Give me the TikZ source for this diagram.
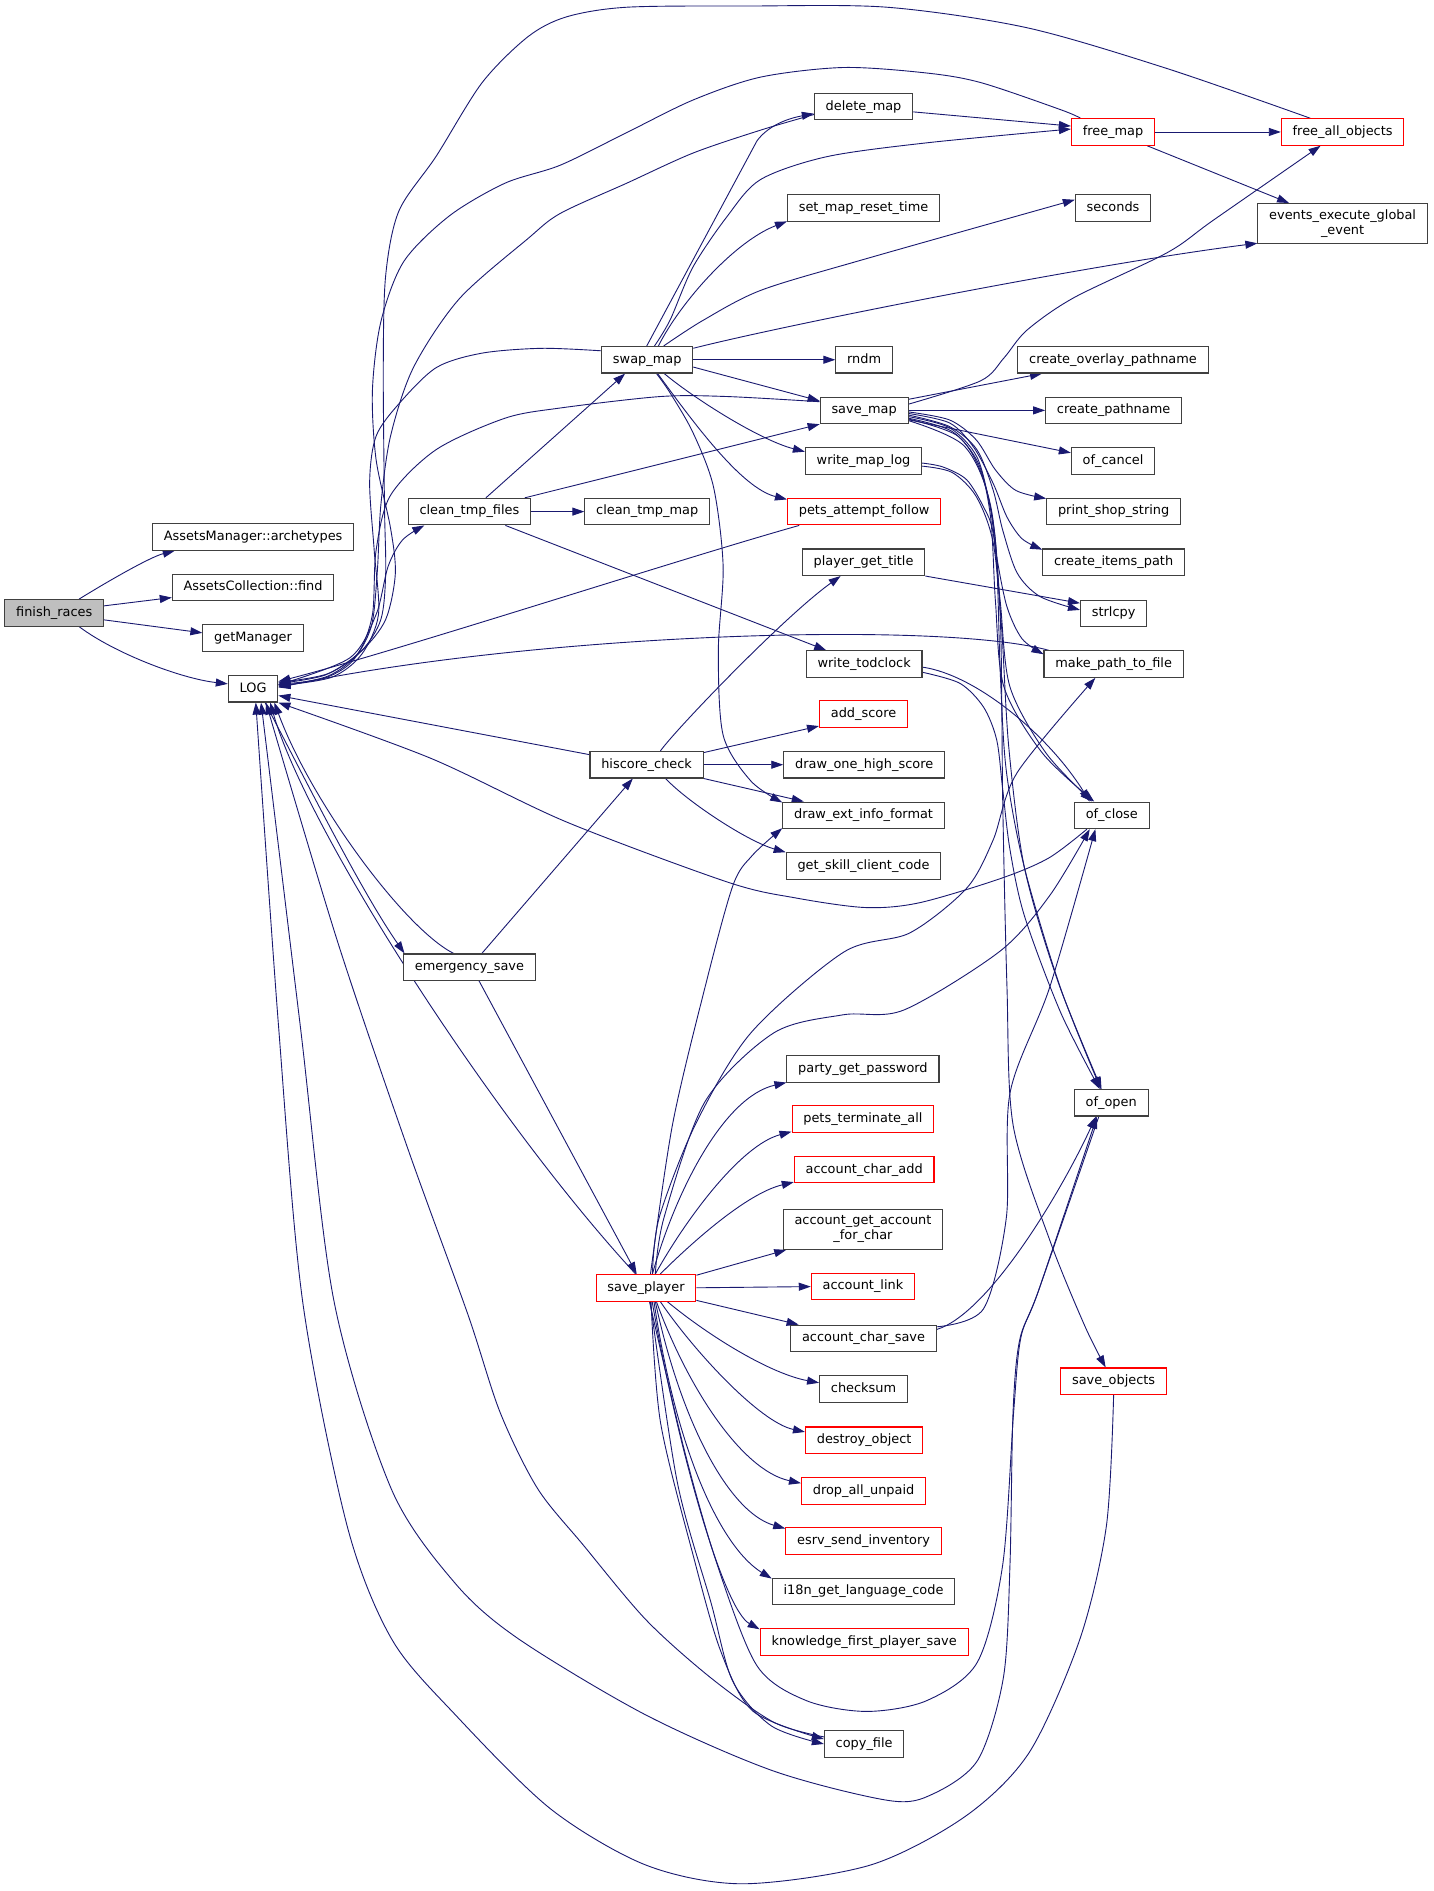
\documentclass[tikz,border=0pt]{standalone}
\usepackage{fontspec}
\newfontfamily\dvs{DejaVu Sans}
\usetikzlibrary{arrows.meta,calc}
\definecolor{eb}{HTML}{191970}
\definecolor{nb}{HTML}{404040}
\pgfdeclarelayer{bg}
\pgfsetlayers{bg,main}
\begin{document}
\begin{tikzpicture}[x=1.2052pt,y=-1.2052pt,
  fbase/.style={draw=nb, line width=1.1pt, fill=white, font=\dvs\fontsize{12.9}{15.2}\selectfont, inner xsep=11.3pt, inner ysep=0pt},
  fn/.style={fbase, minimum height=26.5pt, text height=9.6pt, text depth=2.9pt},
  rn/.style={fn, draw=red},
  fn2/.style={fbase, minimum height=40pt, align=center},
  edg/.style={draw=eb, line width=0.9pt, -{Triangle[length=12pt,width=8pt]}},
]
\useasboundingbox (0,0) rectangle (1189,1569);
% ---------- nodes ----------
\node[fn, fill=gray!50] (finish_races) at (45,508.5) {finish\_races};
\node[fn] (archetypes) at (210,445.5) {AssetsManager::archetypes};
\node[fn] (find) at (210,487.5) {AssetsCollection::find};
\node[fn] (getManager) at (210,529.5) {getManager};
\node[fn] (LOG) at (210,571.5) {LOG};
\node[fn] (clean_tmp_files) at (389.5,424.5) {clean\_tmp\_files};
\node[fn] (emergency_save) at (389.5,802.5) {emergency\_save};
\node[fn] (swap_map) at (537,298.5) {swap\_map};
\node[fn] (clean_tmp_map) at (537,424.5) {clean\_tmp\_map};
\node[fn] (hiscore_check) at (536.5,634.5) {hiscore\_check};
\node[rn] (save_player) at (536,1068.5) {save\_player};
\node[fn] (delete_map) at (716.5,88.5) {delete\_map};
\node[fn] (set_map_reset_time) at (716.5,172.5) {set\_map\_reset\_time};
\node[fn] (rndm) at (717,298.5) {rndm};
\node[fn] (save_map) at (717,340.5) {save\_map};
\node[fn] (write_map_log) at (716.5,382.5) {write\_map\_log};
\node[rn] (pets_attempt_follow) at (717,424.5) {pets\_attempt\_follow};
\node[fn] (player_get_title) at (716.5,466.5) {player\_get\_title};
\node[fn] (write_todclock) at (717,551) {write\_todclock};
\node[rn] (add_score) at (716.5,592.5) {add\_score};
\node[fn] (draw_one_high_score) at (717,634.5) {draw\_one\_high\_score};
\node[fn] (draw_ext_info_format) at (716.5,676.5) {draw\_ext\_info\_format};
\node[fn] (get_skill_client_code) at (716.5,718.5) {get\_skill\_client\_code};
\node[fn] (party_get_password) at (716,887) {party\_get\_password};
\node[rn] (pets_terminate_all) at (716,928.5) {pets\_terminate\_all};
\node[rn] (account_char_add) at (717,970.5) {account\_char\_add};
\node[fn2] (account_get_account_for_char) at (716,1020) {account\_get\_account\\\_for\_char};
\node[rn] (account_link) at (716,1067.5) {account\_link};
\node[fn] (account_char_save) at (716.5,1110.5) {account\_char\_save};
\node[fn] (checksum) at (716.5,1152.5) {checksum};
\node[rn] (destroy_object) at (717,1195) {destroy\_object};
\node[rn] (drop_all_unpaid) at (716.5,1237) {drop\_all\_unpaid};
\node[rn] (esrv_send_inventory) at (716.5,1278.5) {esrv\_send\_inventory};
\node[fn] (i18n_get_language_code) at (716.5,1320.5) {i18n\_get\_language\_code};
\node[rn] (knowledge_first_player_save) at (717,1362.5) {knowledge\_first\_player\_save};
\node[fn] (copy_file) at (717,1447) {copy\_file};
\node[rn] (free_map) at (923.5,109.5) {free\_map};
\node[fn] (seconds) at (923.5,172.5) {seconds};
\node[fn] (create_overlay_pathname) at (923.5,298.5) {create\_overlay\_pathname};
\node[fn] (create_pathname) at (924,340.5) {create\_pathname};
\node[fn] (of_cancel) at (923.5,382.5) {of\_cancel};
\node[fn] (print_shop_string) at (924,424.5) {print\_shop\_string};
\node[fn] (create_items_path) at (924,466.5) {create\_items\_path};
\node[fn] (strlcpy) at (924,509) {strlcpy};
\node[fn] (make_path_to_file) at (924,551) {make\_path\_to\_file};
\node[fn] (of_close) at (922.5,676.5) {of\_close};
\node[fn] (of_open) at (922,915) {of\_open};
\node[rn] (save_objects) at (924,1146) {save\_objects};
\node[rn] (free_all_objects) at (1114,109.5) {free\_all\_objects};
\node[fn2] (events_execute_global_event) at (1114,185.5) {events\_execute\_global\\\_event};
% ---------- edges ----------
\begin{pgfonlayer}{bg}
\fill[white] (0,0) rectangle (1189,1569);
% finish_races
\draw[edg] (finish_races.29) .. controls (90,482) and (125,462) .. (archetypes.190);
\draw[edg] (finish_races.8) -- (find.187);
\draw[edg] (finish_races.352) -- (getManager.174);
\draw[edg] (finish_races.331) .. controls (95,542) and (150,563) .. (LOG.169);
% LOG
\draw[edg] plot[smooth] coordinates {(LOG.9) (290,546) (312,510) (322,470) (334,448) (clean_tmp_files.197)};
\draw[edg] (LOG.311) .. controls (255,650) and (300,740) .. (emergency_save.168);
% emergency_save
\draw[edg] (emergency_save.139) .. controls (335,770) and (258,665) .. (LOG.327);
\draw[edg] (emergency_save.48) -- (hiscore_check.225);
\draw[edg] (emergency_save.305) -- (save_player.124);
% clean_tmp_files
\draw[edg] (clean_tmp_files.40) -- (swap_map.212);
\draw[edg] (clean_tmp_files.east) -- (clean_tmp_map.west);
\draw[edg] (clean_tmp_files.14) -- (save_map.south west);
\draw[edg] (clean_tmp_files.339) -- (write_todclock.160);
% hiscore_check
\draw[edg] (hiscore_check.170) -- (LOG.345);
\draw[edg] (hiscore_check.12) -- (add_score.195);
\draw[edg] (hiscore_check.east) -- (draw_one_high_score.west);
\draw[edg] (hiscore_check.south east) -- (draw_ext_info_format.167);
\draw[edg] (hiscore_check.324) .. controls (570,665) and (620,698) .. (get_skill_client_code.170);
\draw[edg] (hiscore_check.45) .. controls (560,606) and (650,512) .. (player_get_title.211);
% swap_map
\draw[edg] (swap_map.92) -- (628,117) .. controls (636,106) and (650,99) .. (delete_map.188);
\draw[edg] plot[smooth] coordinates {(swap_map.62) (556,265.5) (575,221.5) (603,180) (631,149) (686,130) (769,118.5) (free_map.176)};
\draw[edg] (swap_map.51) .. controls (565,250) and (610,200) .. (set_map_reset_time.190);
\draw[edg] plot[smooth] coordinates {(swap_map.40) (583,266) (631,241) (714,216) (seconds.168)};
\draw[edg] (swap_map.14) .. controls (650,270) and (900,220) .. (events_execute_global_event.193);
\draw[edg] (swap_map.east) -- (rndm.west);
\draw[edg] (swap_map.351) -- (save_map.168);
\draw[edg] (swap_map.321) .. controls (575,330) and (630,365) .. (write_map_log.171);
\draw[edg] (swap_map.307) .. controls (575,350) and (615,405) .. (pets_attempt_follow.171);
\draw[edg] plot[smooth] coordinates {(swap_map.304) (556,326) (575,359) (592,404) (600,470) (596,540) (600,610) (623,648) (draw_ext_info_format.171)};
\draw[edg] plot[smooth] coordinates {(swap_map.169) (449.5,289) (400,293) (362,305) (331,335) (312,362) (306.7,400) (310.5,457) (314,510) (300,543) (275,562) (LOG.7)};
% save_map
\draw[edg] plot[smooth] coordinates {(save_map.169) (603,329) (548,329) (465,338.5) (419,347) (362,373) (324,411) (312,457) (309,510) (297,542) (272,561) (LOG.5)};
\draw[edg] plot[smooth] coordinates {(save_map.8) (813.6,316) (833,297) (852,274) (891,247) (968.7,209.5) (1007,182.5) (free_all_objects.212)};
\draw[edg] (save_map.14) -- (create_overlay_pathname.191);
\draw[edg] (save_map.east) -- (create_pathname.west);
\draw[edg] (save_map.348) -- (of_cancel.169);
\draw[edg] plot[smooth] coordinates {(save_map.358) (788,348.5) (810,365) (826,390) (843,407) (print_shop_string.169)};
\draw[edg] plot[smooth] coordinates {(save_map.356) (788,351) (807.5,370.6) (824,401) (835.5,429) (848,447) (create_items_path.170)};
\draw[edg] plot[smooth] coordinates {(save_map.354) (788,354) (810.5,373) (824,406.6) (832,440) (844,475.5) (863,495) (strlcpy.174)};
\draw[edg] plot[smooth] coordinates {(save_map.352) (788,355) (810.5,379) (821.5,420.5) (827,462) (835.5,503.5) (848,530) (make_path_to_file.172)};
\draw[edg] plot[smooth] coordinates {(save_map.350) (790,358) (812,385) (822,430) (826,500) (833,570) (865,625) (of_close.142)};
\draw[edg] plot[smooth] coordinates {(save_map.349) (795,362) (815,395) (826,450) (830,560) (835,640) (850,720) (880,820) (of_open.127)};
\draw[edg] plot[smooth] coordinates {(save_map.347) (800,370) (822,420) (830,514) (832,667) (835.5,819) (840.6,933.5) (871,1029) (900,1100) (save_objects.120)};
% write_map_log
\draw[edg] plot[smooth] coordinates {(write_map_log.358) (782.5,387.5) (802,398) (816,420.5) (824,442) (830,500) (838,570) (868,625) (of_close.145)};
\draw[edg] plot[smooth] coordinates {(write_map_log.355) (790,392) (810,412) (824,450) (831,520) (837,620) (850,720) (878,815) (of_open.125)};
% write_todclock
\draw[edg] (write_todclock.357) .. controls (810,560) and (870,610) .. (of_close.148);
\draw[edg] plot[smooth] coordinates {(write_todclock.352) (796.5,567) (816,586.6) (827,614) (832,655.5) (838,705) (850,760) (880,840) (of_open.130)};
% player_get_title
\draw[edg] (player_get_title.south east) -- (strlcpy.163);
% delete_map
\draw[edg] (delete_map.354) -- (free_map.172);
\draw[edg] plot[smooth] coordinates {(delete_map.189) (631,108) (575,127) (520,152) (465,177) (438,198) (381,248) (343,305) (324,362) (316,419) (313,475) (308,520) (292,549) (268,563) (LOG.10)};
% free_map
\draw[edg] (free_map.east) -- (free_all_objects.west);
\draw[edg] (free_map.338) -- (events_execute_global_event.159);
\draw[edg] plot[smooth] coordinates {(free_map.157) (880,91) (814,68.6) (769,60.6) (700,56) (631,64) (575,83) (520,110) (465,137) (419,152) (373,179) (335,217) (316,267) (309,324) (312,381) (324,438) (328,476) (320,514) (300,540) (270,560) (LOG.12)};
% free_all_objects
\draw[edg] plot[smooth] coordinates {(free_all_objects.157) (968.7,57) (852,23) (736,6) (620,5) (520,6) (470,14) (438,30.5) (400,68.6) (362,129.5) (331,175) (320,228.6) (318,305) (319,419) (320,476) (316,514) (300,540) (272,559) (LOG.14)};
% pets_attempt_follow, make_path_to_file, of_close -> LOG
\draw[edg] (pets_attempt_follow.192) .. controls (560,465) and (330,540) .. (LOG.16);
\draw[edg] (make_path_to_file.168) .. controls (780,515) and (450,525) .. (LOG.3);
\draw[edg] plot[smooth] coordinates {(of_close.209) (870,712) (830,729) (763,749) (718,753) (660,745) (604,732) (470,682) (357,629) (LOG.south east)};
% save_player
\draw[edg] (save_player.127) .. controls (410,930) and (255,690) .. (LOG.321);
\draw[edg] plot[smooth] coordinates {(save_player.65) (547,1010) (577,933) (623,857) (700,790) (755,774) (802,737) (824,697) (844,641) (make_path_to_file.217)};
\draw[edg] plot[smooth] coordinates {(save_player.56) (551,1010) (585,914) (642,857) (699.5,842) (750,838) (830,789) (871,743) (of_close.212)};
\draw[edg] plot[smooth] coordinates {(save_player.72) (558,933) (585,819) (608,735) (624,710) (draw_ext_info_format.189)};
\draw[edg] (save_player.65) .. controls (560,990) and (600,910) .. (party_get_password.190);
\draw[edg] (save_player.56) .. controls (570,1010) and (615,950) .. (pets_terminate_all.190);
\draw[edg] (save_player.44) .. controls (575,1030) and (620,990) .. (account_char_add.190);
\draw[edg] (save_player.14) -- (account_get_account_for_char.195);
\draw[edg] (save_player.east) -- (account_link.west);
\draw[edg] (save_player.346) -- (account_char_save.168);
\draw[edg] (save_player.327) .. controls (590,1110) and (640,1140) .. (checksum.172);
\draw[edg] (save_player.316) .. controls (575,1120) and (630,1180) .. (destroy_object.172);
\draw[edg] (save_player.307) .. controls (570,1150) and (615,1220) .. (drop_all_unpaid.173);
\draw[edg] (save_player.304) .. controls (565,1180) and (605,1255) .. (esrv_send_inventory.171);
\draw[edg] (save_player.300) .. controls (562,1210) and (600,1285) .. (i18n_get_language_code.172);
\draw[edg] (save_player.294) .. controls (562,1200) and (600,1335) .. (knowledge_first_player_save.173);
\draw[edg] plot[smooth] coordinates {(save_player.290) (548,1180) (575,1290) (598,1370) (625,1420) (copy_file.173)};
\draw[edg] plot[smooth] coordinates {(save_player.287) (562,1230) (590,1330) (608,1395) (640,1432) (copy_file.180)};
\draw[edg] plot[smooth] coordinates {(save_player.284) (568,1204) (595,1298) (628,1382) (669,1411) (719,1420) (769,1411) (811,1379) (832,1298) (841,1172) (847,1110) (862,1070) (of_open.224)};
% of_open, copy_file, save_objects -> LOG
\draw[edg] plot[smooth] coordinates {(of_open.228) (862,1070) (846,1112) (840.5,1172.5) (838,1298) (832.6,1391.5) (811.5,1460) (774,1488.5) (738,1494) (642,1469.5) (536,1423) (430.5,1360) (377.5,1313.5) (324.5,1235) (277,1079) (249,850) (LOG.300)};
\draw[edg] plot[smooth] coordinates {(copy_file.170) (642,1429) (589,1391.5) (536,1344) (484,1282) (446,1235) (415,1172) (388,1090) (338,952) (280,781) (LOG.313)};
\draw[edg] plot[smooth] coordinates {(save_objects.south) (918,1266) (896,1360) (854,1454) (801,1507) (722,1547.5) (616,1563) (536,1547.5) (457,1501) (378,1423) (325,1360) (288,1266) (251,1079) (231,850) (LOG.281)};
% account_char_save
\draw[edg] plot[smooth] coordinates {(account_char_save.9) (816,1086) (835,1010) (838,907) (871,819) (of_close.220)};
\draw[edg] (account_char_save.7) .. controls (820,1090) and (880,990) .. (of_open.222);
\end{pgfonlayer}
\end{tikzpicture}
\end{document}
